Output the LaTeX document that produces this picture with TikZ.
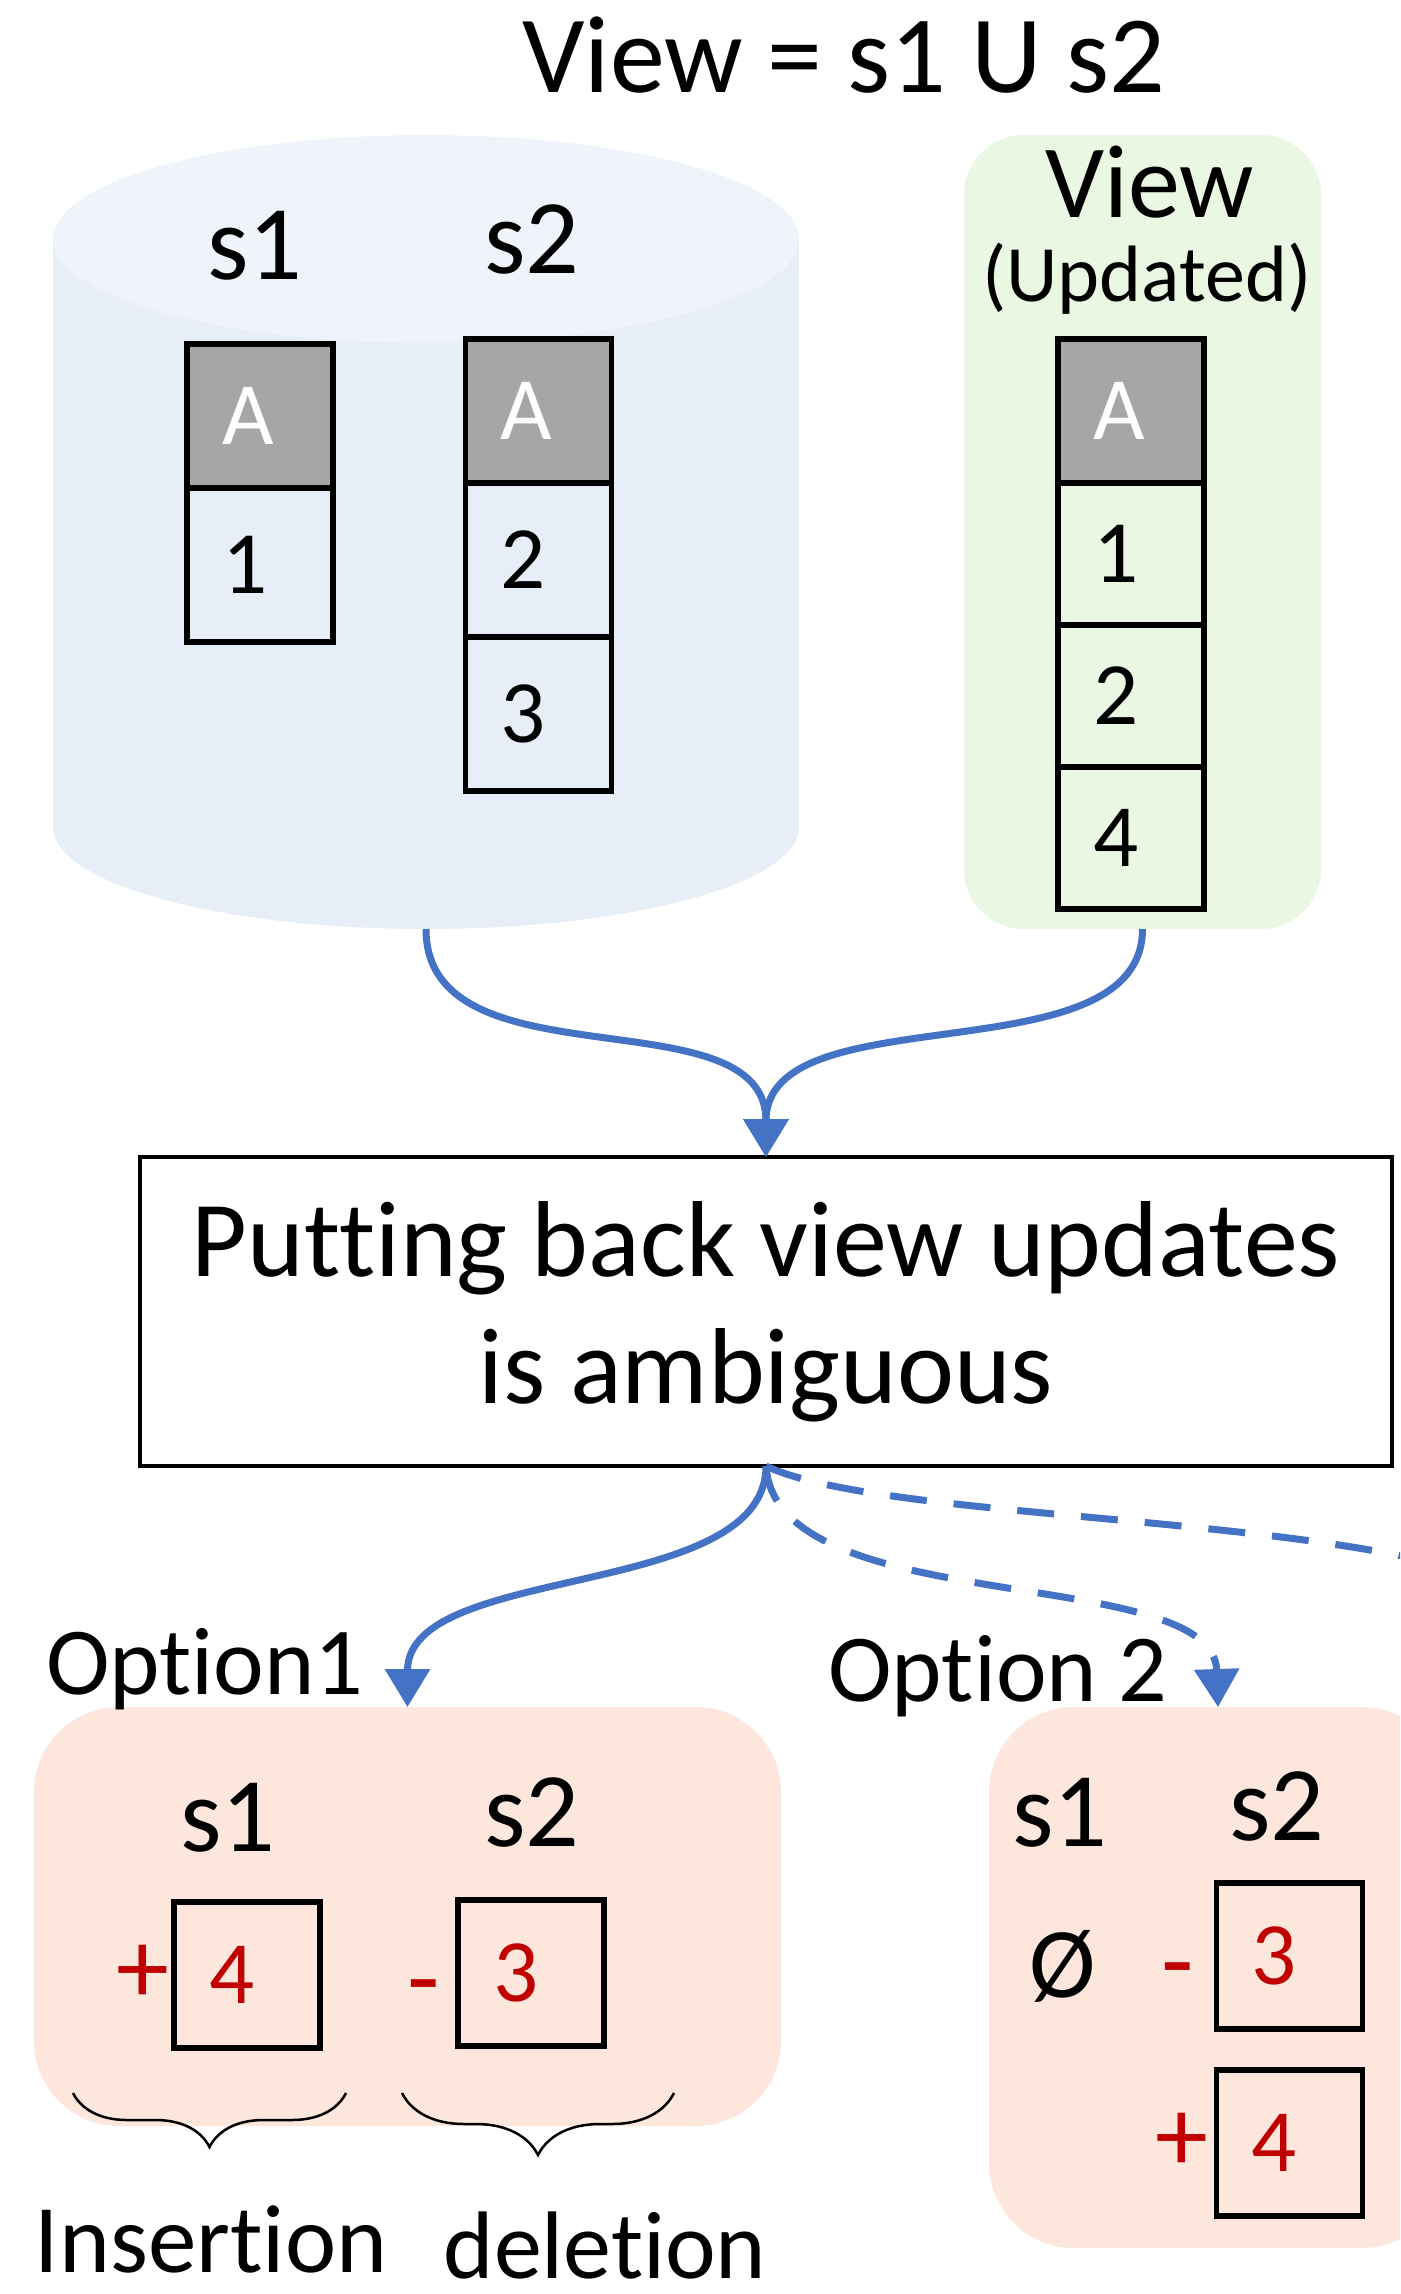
\documentclass[tikz,border=0pt]{standalone}
\usepackage{fontspec}
\setmainfont{Carlito}[Ligatures=CommonOff]
\usetikzlibrary{positioning,arrows.meta,decorations.pathreplacing}

\definecolor{dbbody}{RGB}{231,238,248}
\definecolor{dbtop}{RGB}{239,244,251}
\definecolor{viewfill}{RGB}{234,247,227}
\definecolor{optfill}{RGB}{253,231,221}
\definecolor{headgray}{RGB}{166,166,166}
\definecolor{flowblue}{RGB}{68,114,196}
\definecolor{signred}{RGB}{192,0,0}

\newcommand{\pxfont}[2]{\fontsize{#1}{#2}\selectfont}

\begin{document}
\begin{tikzpicture}[
        x=1pt, y=-1pt,
        every node/.style={inner sep=0pt, outer sep=0pt},
        setname/.style={font=\pxfont{106}{106}, anchor=base},
        optname/.style={font=\pxfont{96}{96}, anchor=base},
        cell/.style={
            rectangle,
            draw=black,
            line width=5.5pt,
            minimum width=146pt,
            minimum height=154pt,
            text width=76pt,
            inner xsep=35pt,
            text height=57pt,
            text depth=0pt,
            align=left,
            font=\pxfont{89}{89}
        },
        headcell/.style={cell, fill=headgray, text=white, minimum height=144pt},
        viewcell/.style={cell, minimum height=142pt},
        optcell/.style={cell, minimum height=146pt, text=signred},
        sign/.style={font=\pxfont{106}{106}, text=signred},
        panel/.style={rectangle, draw=none, rounded corners=85pt},
        flowline/.style={-{Triangle[width=44pt,length=38pt]}, line width=7pt, draw=flowblue},
        flowdash/.style={flowline, dash pattern=on 37pt off 27pt},
        grpbrace/.style={decorate, decoration={brace, mirror, amplitude=#1}, line width=2.5pt}
    ]
    \useasboundingbox (0,0) rectangle (1400,2294);
    \clip (0,0) rectangle (1400,2294);

    % Title
    \node[setname, font=\pxfont{110}{110}] (title) at (844,92) {View = s1 U s2};

    % Source database (cylinder)
    \fill[dbbody] (53,239) rectangle (799,827);
    \fill[dbbody] (426,827) ellipse [x radius=373pt, y radius=102pt];
    \fill[dbtop] (426,239) ellipse [x radius=373pt, y radius=104pt];
    \coordinate (dbfoot) at (426,929);

    \node[setname] (dbs1) at (255,279) {s1};
    \node[setname] (dbs2) at (532,273) {s2};

    % Table s1
    \node[headcell, anchor=north] (s1head) at (260,344) {A};
    \node[cell, below=0pt of s1head] (s1row1) {1};

    % Table s2
    \node[headcell, anchor=north] (s2head) at (538.5,339) {A};
    \node[cell, below=0pt of s2head] (s2row1) {2};
    \node[cell, below=0pt of s2row1] (s2row2) {3};

    % Updated view
    \node[panel, fill=viewfill, rounded corners=60pt, minimum width=357pt, minimum height=794pt] (viewbox) at (1142.5,532) {};
    \node[anchor=base, font=\pxfont{104}{104}] (viewname) at (1150,217) {View};
    \node[anchor=base, font=\pxfont{80}{80}] (viewnote) at (1147,301) {(Updated)};
    \node[headcell, anchor=north] (vhead) at (1131,339) {A};
    \node[viewcell, below=0pt of vhead] (vrow1) {1};
    \node[viewcell, below=0pt of vrow1] (vrow2) {2};
    \node[viewcell, below=0pt of vrow2] (vrow3) {4};

    % Problem statement
    \node[draw=black, line width=4pt, minimum width=1252pt, minimum height=309pt,
          align=center, font=\pxfont{108}{127}] (amb) at (766,1311.5)
          {Putting back view updates\\is ambiguous};

    % Option panels
    \node[panel, fill=optfill, minimum width=747pt, minimum height=419pt] (opt1) at (407.5,1916.5) {};
    \node[panel, fill=optfill, minimum width=458pt, minimum height=541pt] (opt2) at (1218,1977.5) {};
    \node[optname] (opt1name) at (205,1694) {Option1};
    \node[optname] (opt2name) at (998,1701) {Option 2};

    % Arrows into and out of the statement
    \draw[flowline] (dbfoot) .. controls +(0,160) and +(0,-165) .. (amb.north);
    \draw[flowline] (viewbox.south) .. controls +(0,150) and +(0,-165) .. (amb.north);
    \draw[flowline] (amb.south) .. controls +(0,135) and +(0,-145) .. (opt1.north);
    \draw[flowdash] (amb.south) .. controls +(10,155) and +(-5,-145) .. (opt2.north);
    \coordinate (offright) at (1480,1575);
    \draw[flowdash] (amb.south) .. controls +(105,50) and +(-230,-60) .. (offright);

    % Option 1: insert into s1, delete from s2
    \node[setname] (o1s1) at (228,1851) {s1};
    \node[setname] (o1s2) at (532,1846) {s2};
    \node[optcell] (o1ins) at (247,1975) {4};
    \node[optcell] (o1del) at (531,1973) {3};
    \node[sign, base left=5pt of o1ins] (o1plus) {+};
    \node[sign, base left=18pt of o1del, yshift=-12pt] (o1minus) {-};

    \draw[grpbrace=54pt] (73,2093) -- (346,2093);
    \draw[grpbrace=62pt] (402,2093) -- (674,2093);
    \node[anchor=base, font=\pxfont{97}{97}] (insname) at (211,2272) {Insertion};
    \node[anchor=base, font=\pxfont{96}{96}] (delname) at (605,2278) {deletion};

    % Option 2: s1 unchanged, s2 loses 3 and gains 4
    \node[setname] (o2s1) at (1060,1846) {s1};
    \node[setname] (o2s2) at (1277,1840) {s2};
    \node[anchor=base, font=\pxfont{100}{100}] (o2empty) at (1063,1997) {Ø};
    \node[optcell] (o2del) at (1289.5,1956) {3};
    \node[optcell] (o2ins) at (1289.5,2143) {4};
    \node[sign, base left=23pt of o2del, yshift=-12pt] (o2minus) {-};
    \node[sign, base left=8pt of o2ins] (o2plus) {+};
\end{tikzpicture}
\end{document}
